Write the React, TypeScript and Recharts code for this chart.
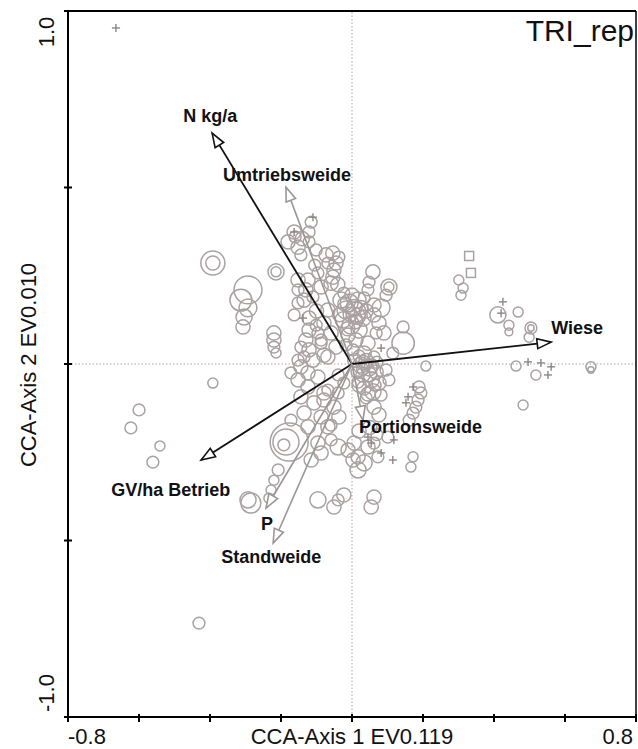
import React from 'react';
import { ScatterChart, Scatter, XAxis, YAxis, ZAxis, ReferenceLine } from 'recharts';

// ---- axis ticks ----
const X_TICKS = [-0.8, -0.6, -0.4, -0.2, 0, 0.2, 0.4, 0.6, 0.8];
const X_TICK_TEXT = ['-0.8', '', '', '', '', '', '', '', '0.8'];
const Y_TICKS = [-1, -0.5, 0, 0.5, 1];
const Y_TICK_TEXT = ['-1.0', '', '', '', '1.0'];

const X_TITLE = 'CCA-Axis 1 EV0.119';
const Y_TITLE = 'CCA-Axis 2 EV0.010';
const PANEL_TITLE = 'TRI_rep';

// ---- site scores [axis1, axis2, weight] ----
const SITES_WEST = [
  [-0.392, -0.054, 1], [-0.6, -0.13, 1.4], [-0.623, -0.181, 1.4], [-0.541, -0.232, 1],
  [-0.561, -0.278, 1.4], [-0.285, -0.394, 4], [-0.431, -0.734, 1.4],
];

const SITES_NW = [
  [-0.392, 0.286, 5.8], [-0.392, 0.286, 2], [-0.293, 0.21, 7.8], [-0.313, 0.181, 4.8], [-0.293, 0.159, 3.2],
  [-0.304, 0.133, 2.6], [-0.307, 0.105, 2], [-0.214, 0.261, 2.6], [-0.214, 0.261, 1], [-0.22, 0.088, 2],
  [-0.22, 0.068, 2], [-0.22, 0.048, 1.4], [-0.214, 0.031, 1], [-0.163, 0.374, 2], [-0.18, 0.346, 2],
  [-0.152, 0.331, 2], [-0.115, 0.402, 1.4], [-0.121, 0.374, 1.4], [-0.121, 0.346, 1.4], [-0.144, 0.309, 1.4],
  [-0.101, 0.323, 1.4], [-0.073, 0.309, 2], [-0.054, 0.314, 2], [-0.037, 0.303, 1.4], [-0.045, 0.286, 2],
  [-0.051, 0.266, 2], [-0.054, 0.246, 2], [-0.059, 0.229, 2], [-0.068, 0.286, 1.4], [-0.152, 0.238, 2],
  [-0.124, 0.238, 2], [-0.13, 0.21, 2], [-0.152, 0.21, 1.4], [-0.135, 0.181, 2], [-0.11, 0.19, 1.4],
  [-0.152, 0.173, 1.4], [-0.163, 0.139, 1.4], [-0.121, 0.13, 2], [-0.101, 0.11, 1.4], [-0.121, 0.096, 2],
  [-0.13, 0.068, 2], [-0.144, 0.048, 1.4], [-0.121, 0.04, 2], [-0.135, 0.02, 1.4], [-0.11, 0.011, 2],
  [-0.152, 0.011, 1.4], [-0.096, 0.258, 1.4], [-0.087, 0.218, 2], [-0.068, 0.153, 2], [-0.079, 0.116, 2],
  [-0.059, 0.088, 2], [-0.087, 0.068, 1.4], [-0.045, 0.048, 2], [-0.068, 0.02, 2], [-0.096, 0.088, 1.4],
  [-0.087, 0.059, 1.4], [-0.079, 0.025, 2], [-0.023, 0.201, 1.4], [-0.16, 0.36, 1.4], [-0.14, 0.355, 2],
  [-0.105, 0.28, 1.4], [-0.04, 0.225, 2], [-0.1, 0.15, 2],
];

const SITES_NE = [
  [0.059, 0.261, 2], [0.048, 0.232, 1.4], [0.045, 0.21, 1.4], [0.034, 0.187, 1.4], [0.104, 0.218, 2.6],
  [0.104, 0.218, 1], [0.096, 0.195, 1.4], [0.082, 0.159, 3.2], [0.062, 0.167, 2], [0.062, 0.139, 2],
  [0.076, 0.116, 2], [0.09, 0.088, 2], [0.068, 0.088, 1.4], [0.144, 0.105, 1.4], [0.144, 0.059, 5],
  [0.115, 0.031, 1.4], [0.045, 0.059, 2], [0.034, 0.031, 2], [0.062, 0.02, 1.4],
];

const SITES_CORE = [
  [-0.031, 0.181, 2.6], [-0.008, 0.173, 3.2], [0.017, 0.181, 2.6], [-0.017, 0.153, 3.2], [0.011, 0.147, 4],
  [0.031, 0.13, 2.6], [-0.025, 0.125, 2.6], [-0.003, 0.11, 3.2], [0.02, 0.096, 2.6], [-0.011, 0.082, 2],
  [0.011, 0.068, 2], [-0.017, 0.054, 1.4], [0.003, 0.04, 1.4], [0.02, 0.023, 1.4], [0.025, -0.003, 2.6],
  [0.048, -0.011, 2.6], [0.068, -0.023, 2], [0.031, -0.031, 2], [0.054, -0.045, 2.6], [0.076, -0.054, 2],
  [0.034, -0.068, 2], [0.059, -0.079, 2.6], [0.082, -0.088, 1.4], [0.04, -0.096, 1.4], [0.014, -0.023, 1.4],
  [0.096, -0.017, 1.4], [0.017, -0.051, 1.4], [0.104, -0.045, 1.4], [0.008, 0.01, 2], [0.04, 0.01, 2],
  [0.07, 0.005, 1.4], [0.03, -0.015, 1.4], [0.05, -0.03, 2], [0.02, -0.06, 2], [0.045, -0.085, 2],
  [0.065, -0.06, 1.4], [0.01, 0.12, 2], [-0.005, 0.14, 2], [0.025, 0.16, 2], [-0.02, 0.17, 2],
  [0.0, 0.195, 2], [-0.035, 0.14, 2], [0.04, 0.15, 2], [0.006, 0.16, 2.6], [0.015, 0.135, 2.6],
  [-0.012, 0.1, 2], [0.03, 0.005, 2], [0.055, -0.005, 2],
];

const SITES_SW = [
  [-0.144, -0.008, 2], [-0.124, -0.025, 2], [-0.172, -0.025, 1.4], [-0.152, -0.045, 2], [-0.124, -0.065, 2],
  [-0.096, -0.037, 2], [-0.144, -0.093, 2], [-0.107, -0.11, 2], [-0.079, -0.082, 2], [-0.135, -0.139, 2],
  [-0.087, -0.15, 2], [-0.068, -0.178, 2], [-0.124, -0.178, 2], [-0.172, -0.159, 1.4], [-0.068, -0.074, 1.4],
  [-0.039, -0.082, 1.4], [-0.079, -0.102, 2], [-0.051, -0.122, 2], [-0.037, -0.15, 2], [-0.059, -0.173, 1.4],
  [-0.039, -0.031, 1.4], [-0.023, -0.054, 1.4], [-0.177, -0.221, 14.4], [-0.186, -0.221, 6.8], [-0.192, -0.229, 1.4],
  [-0.096, -0.224, 2], [-0.087, -0.252, 2], [-0.115, -0.272, 2], [-0.059, -0.215, 1.4], [-0.293, -0.385, 2.6],
  [-0.208, -0.3, 1.4], [-0.22, -0.329, 1], [-0.228, -0.357, 1], [-0.234, -0.38, 1], [-0.096, -0.385, 2.6],
  [-0.051, -0.405, 2], [-0.023, -0.371, 2], [-0.039, -0.385, 1.4],
];

const SITES_SE = [
  [0.062, -0.377, 2], [0.054, -0.405, 2], [0.062, -0.122, 2], [0.076, -0.144, 2], [-0.039, -0.235, 2.6],
  [-0.011, -0.244, 2], [0.017, -0.263, 2], [0.006, -0.224, 2], [0.045, -0.235, 2], [0.062, -0.224, 1.4],
  [0.073, -0.263, 1.4], [0.034, -0.28, 2.6], [0.017, -0.3, 2.6], [0.003, -0.272, 2], [0.101, -0.207, 1.4],
  [0.172, -0.263, 1], [0.166, -0.292, 1], [0.189, -0.065, 1.4], [0.194, -0.082, 1.4], [0.186, -0.102, 1.4],
  [0.18, -0.122, 1.4], [0.172, -0.139, 1.4], [0.161, -0.159, 1.4], [0.208, -0.006, 1], [0.02, -0.19, 2],
  [0.05, -0.18, 2], [0.07, -0.2, 1.4],
];

const SITES_EAST = [
  [0.301, 0.238, 1], [0.313, 0.215, 1], [0.307, 0.195, 1], [0.411, 0.139, 2.6], [0.468, 0.147, 1],
  [0.442, 0.11, 1], [0.442, 0.091, 0.6], [0.504, 0.102, 1.4], [0.504, 0.102, 0.4], [0.499, 0.076, 1],
  [0.518, -0.031, 1], [0.462, -0.006, 1], [0.673, -0.008, 1], [0.673, -0.017, 0.4], [0.482, -0.116, 1],
];

// square-coded sites
const SQUARE_SITES = [[0.33, 0.306], [0.335, 0.258]];

// cross-coded sites
const CROSS_SITES = [
  [-0.665, 0.952], [-0.11, 0.416], [-0.163, 0.374], [-0.138, 0.13], [0.082, 0.045], [0.425, 0.176],
  [0.42, 0.144], [0.496, 0.006], [0.532, 0.003], [0.561, -0.008], [0.552, -0.031], [0.172, -0.065],
  [0.158, -0.093], [0.152, -0.11], [0.118, -0.215], [0.115, -0.272], [0.054, -0.224], [0.082, -0.252],
  [0.045, -0.207],
];

// ---- environmental variables (biplot arrows) ----
const ENV_NAMES = ['N kg/a', 'Umtriebsweide', 'Wiese', 'GV/ha Betrieb', 'Portionsweide', 'P', 'Standweide'];
const ENV_X = [-0.394, -0.186, 0.561, -0.425, 0.031, -0.242, -0.222];
const ENV_Y = [0.654, 0.501, 0.062, -0.272, -0.159, -0.408, -0.507];
const ENV_PASSIVE = [false, true, false, false, true, true, true];

// ---- layout ----
const CHART_W = 638;
const CHART_H = 749;
const PLOT_LEFT = 68;
const PLOT_TOP = 11;
const PLOT_RIGHT = 636;
const PLOT_BOTTOM = 717;
const X_DOMAIN: [number, number] = [-0.8, 0.8];
const Y_DOMAIN: [number, number] = [-1, 1];
const BOTTOM_BASELINE = CHART_H - 5;

const FONT = '"Liberation Sans", Arial, Helvetica, sans-serif';
const SITE_COLOR = '#aaa2a2';
const CROSS_COLOR = '#8e8585';
const ACTIVE_COLOR = '#111111';
const PASSIVE_COLOR = '#9c9696';
const ZERO_COLOR = '#b3a2a2';

// label placement relative to each arrow tip (px)
const LABEL_OFFSET: Record<string, [number, number]> = {
  'N kg/a': [-29, -11],
  Umtriebsweide: [-63, -6],
  Wiese: [0, -8],
  'GV/ha Betrieb': [-90, 36],
  Portionsweide: [-4, 13],
  P: [-5, 22],
  Standweide: [-52, 20],
};

const toRows = (rows: number[][]) => rows.map(([x, y, w]) => ({ x, y, w }));

const ORIGIN_PX = {
  x: PLOT_LEFT + ((0 - X_DOMAIN[0]) / (X_DOMAIN[1] - X_DOMAIN[0])) * (PLOT_RIGHT - PLOT_LEFT),
  y: PLOT_TOP + ((Y_DOMAIN[1] - 0) / (Y_DOMAIN[1] - Y_DOMAIN[0])) * (PLOT_BOTTOM - PLOT_TOP),
};

const Ring = (p: any) => {
  const size = typeof p.size === 'number' ? p.size : 25 * (p.payload?.w ?? 1) * Math.PI;
  const r = Math.sqrt(Math.max(size, 0) / Math.PI);
  return <circle cx={p.cx} cy={p.cy} r={r} fill="none" stroke={SITE_COLOR} strokeWidth={1.5} />;
};

const Cross = (p: any) => (
  <g stroke={CROSS_COLOR} strokeWidth={1.4}>
    <line x1={p.cx - 4} x2={p.cx + 4} y1={p.cy} y2={p.cy} />
    <line x1={p.cx} x2={p.cx} y1={p.cy - 4} y2={p.cy + 4} />
  </g>
);

const Square = (p: any) => (
  <rect x={p.cx - 4.5} y={p.cy - 4.5} width={9} height={9} fill="none" stroke={SITE_COLOR} strokeWidth={1.5} />
);

const makeArrowTip = (color: string) => (p: any) => {
  const name = p.payload?.name;
  if (!name) return <g />;
  const ang = Math.atan2(p.cy - ORIGIN_PX.y, p.cx - ORIGIN_PX.x);
  const len = 14;
  const half = 5;
  const bx = p.cx - len * Math.cos(ang);
  const by = p.cy - len * Math.sin(ang);
  const nx = -Math.sin(ang) * half;
  const ny = Math.cos(ang) * half;
  const pts = `${p.cx},${p.cy} ${bx + nx},${by + ny} ${bx - nx},${by - ny}`;
  const [dx, dy] = LABEL_OFFSET[name] || [0, 0];
  return (
    <g>
      <polygon points={pts} fill="#fff" stroke={color} strokeWidth={1.6} strokeLinejoin="miter" />
      <text x={p.cx + dx} y={p.cy + dy} fontFamily={FONT} fontSize={18} fontWeight="bold" fill="#111">
        {name}
      </text>
    </g>
  );
};

const XTick = (p: any) => {
  const i = X_TICKS.findIndex((t) => Math.abs(t - p.payload.value) < 1e-9);
  const text = i >= 0 ? X_TICK_TEXT[i] : '';
  const isFirst = i === 0;
  return (
    <g>
      <line x1={p.x} x2={p.x} y1={PLOT_BOTTOM - 3} y2={PLOT_BOTTOM + 5} stroke="#000" strokeWidth={2} />
      {text && (
        <text
          x={isFirst ? p.x : p.x - 3}
          y={BOTTOM_BASELINE}
          textAnchor={isFirst ? 'start' : 'end'}
          fontFamily={FONT}
          fontSize={22}
          fill="#111"
        >
          {text}
        </text>
      )}
    </g>
  );
};

const YTick = (p: any) => {
  const i = Y_TICKS.findIndex((t) => Math.abs(t - p.payload.value) < 1e-9);
  const text = i >= 0 ? Y_TICK_TEXT[i] : '';
  const top = i === Y_TICKS.length - 1;
  const cy = top ? p.y + 21 : p.y - 24;
  const bx = 54;
  return (
    <g>
      <line x1={PLOT_LEFT - 4} x2={PLOT_LEFT + 4} y1={p.y} y2={p.y} stroke="#000" strokeWidth={2} />
      {text && (
        <text
          x={bx}
          y={cy}
          transform={`rotate(-90 ${bx} ${cy})`}
          textAnchor="middle"
          fontFamily={FONT}
          fontSize={22}
          fill="#111"
        >
          {text}
        </text>
      )}
    </g>
  );
};

export default function App() {
  const siteGroups = [SITES_WEST, SITES_NW, SITES_NE, SITES_CORE, SITES_SW, SITES_SE, SITES_EAST];
  const squares = SQUARE_SITES.map(([x, y]) => ({ x, y }));
  const crosses = CROSS_SITES.map(([x, y]) => ({ x, y }));
  const arrows = ENV_NAMES.map((name, i) => ({
    name,
    passive: ENV_PASSIVE[i],
    data: [
      { x: 0, y: 0 },
      { x: ENV_X[i], y: ENV_Y[i], name },
    ],
  }));

  return (
    <div style={{ position: 'absolute', left: 0, top: 0, width: CHART_W, height: CHART_H, background: '#fff' }}>
      <ScatterChart
        width={CHART_W}
        height={CHART_H}
        margin={{ top: PLOT_TOP, right: CHART_W - PLOT_RIGHT, left: 0, bottom: 0 }}
      >
        <XAxis
          type="number"
          dataKey="x"
          domain={X_DOMAIN}
          ticks={X_TICKS}
          interval={0}
          height={CHART_H - PLOT_BOTTOM}
          axisLine={{ stroke: '#000', strokeWidth: 2 }}
          tickLine={false}
          tick={<XTick />}
          label={() => (
            <text
              x={(PLOT_LEFT + PLOT_RIGHT) / 2}
              y={BOTTOM_BASELINE}
              textAnchor="middle"
              fontFamily={FONT}
              fontSize={22}
              fill="#111"
            >
              {X_TITLE}
            </text>
          )}
        />
        <YAxis
          type="number"
          dataKey="y"
          domain={Y_DOMAIN}
          ticks={Y_TICKS}
          interval={0}
          width={PLOT_LEFT}
          axisLine={{ stroke: '#000', strokeWidth: 2 }}
          tickLine={false}
          tick={<YTick />}
          label={() => {
            const cx = 36;
            const cy = (PLOT_TOP + PLOT_BOTTOM) / 2 + 1;
            return (
              <text
                x={cx}
                y={cy}
                transform={`rotate(-90 ${cx} ${cy})`}
                textAnchor="middle"
                fontFamily={FONT}
                fontSize={22}
                fill="#111"
              >
                {Y_TITLE}
              </text>
            );
          }}
        />
        <ZAxis type="number" dataKey="w" domain={[0, 25]} range={[0, 1963]} />

        <ReferenceLine x={0} stroke={ZERO_COLOR} strokeWidth={1} strokeDasharray="1.5 2" />
        <ReferenceLine y={0} stroke={ZERO_COLOR} strokeWidth={1} strokeDasharray="1.5 2" />

        {siteGroups.map((g, i) => (
          <Scatter key={`s${i}`} data={toRows(g)} shape={<Ring />} isAnimationActive={false} />
        ))}
        <Scatter data={squares} shape={<Square />} isAnimationActive={false} />
        <Scatter data={crosses} shape={<Cross />} isAnimationActive={false} />

        {arrows.map((a) => {
          const color = a.passive ? PASSIVE_COLOR : ACTIVE_COLOR;
          return (
            <Scatter
              key={a.name}
              data={a.data}
              line={{ stroke: color, strokeWidth: a.passive ? 1.6 : 1.8 }}
              lineType="joint"
              shape={makeArrowTip(color)}
              isAnimationActive={false}
            />
          );
        })}

        <ReferenceLine
          y={1}
          stroke="#000"
          strokeWidth={2}
          label={() => (
            <text x={PLOT_RIGHT - 2} y={PLOT_TOP + 30} textAnchor="end" fontFamily={FONT} fontSize={30} fill="#111">
              {PANEL_TITLE}
            </text>
          )}
        />
        <ReferenceLine x={0.8} stroke="#000" strokeWidth={1.5} />
      </ScatterChart>
    </div>
  );
}
